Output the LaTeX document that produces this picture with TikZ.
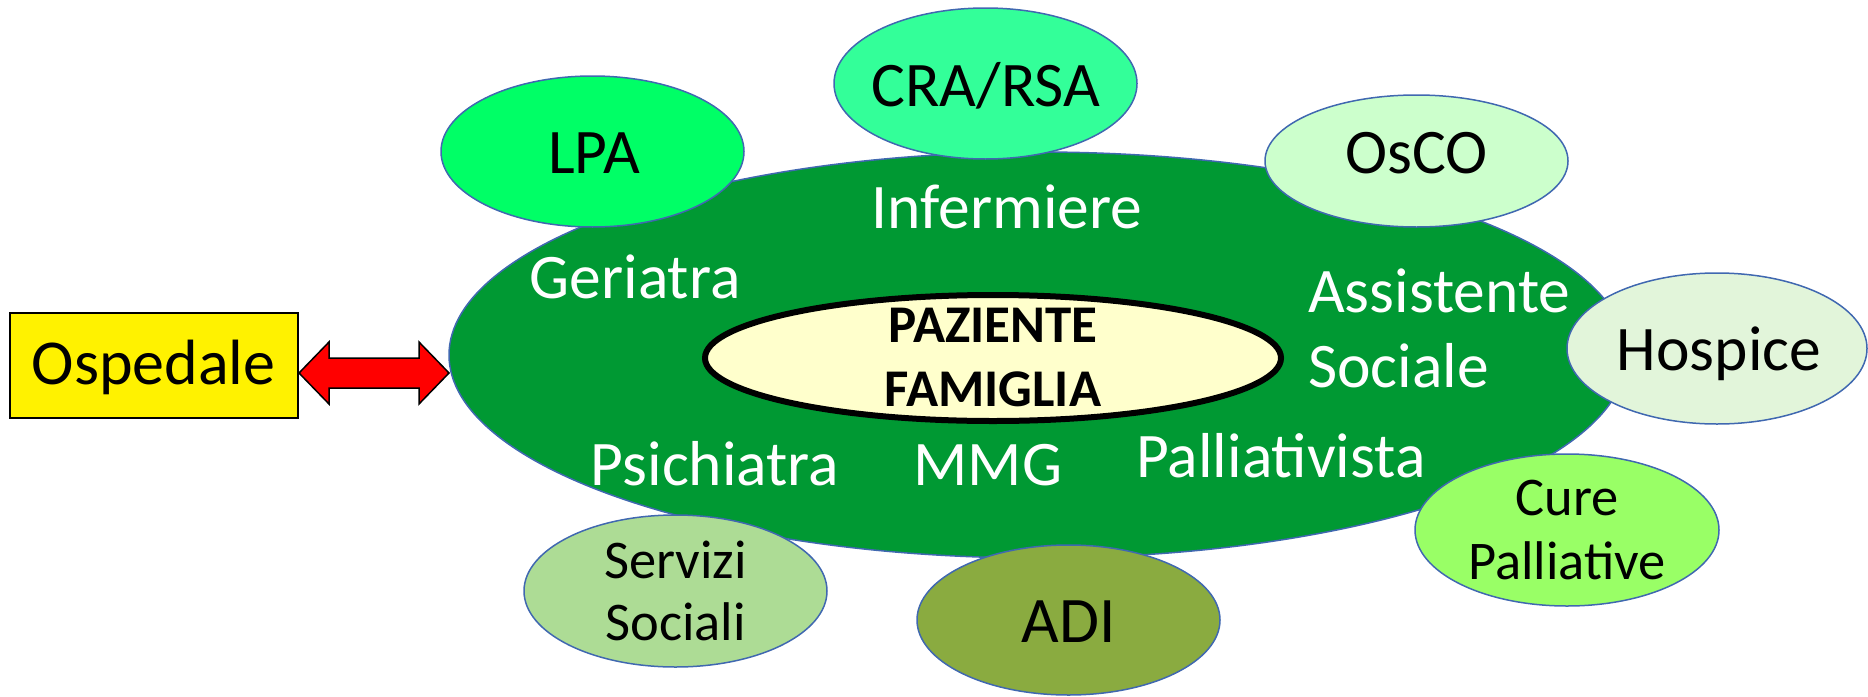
\documentclass[tikz,border=0pt]{standalone}
\usepackage{fontspec}
\setmainfont{Carlito}
\usetikzlibrary{shapes.geometric,calc}
\definecolor{biggreen}{HTML}{009933}
\definecolor{edgeblue}{HTML}{4068B0}
\definecolor{clpa}{HTML}{00FF66}
\definecolor{ccra}{HTML}{33FF99}
\definecolor{cosco}{HTML}{CCFFCC}
\definecolor{chosp}{HTML}{E2F5DA}
\definecolor{ccure}{HTML}{99FF66}
\definecolor{cserv}{HTML}{ADDC95}
\definecolor{cadi}{HTML}{8AAB40}
\definecolor{cpaz}{HTML}{FFFFCC}
\tikzset{
  bubble/.style={ellipse, draw=edgeblue, line width=1.5pt, inner sep=0pt, outer sep=0pt},
  wtext/.style={text=white, anchor=base, inner sep=0pt, font=\fontsize{63.5}{74}\selectfont},
  btext/.style={text=black, anchor=base, inner sep=0pt, font=\fontsize{63.5}{74}\selectfont},
  stext/.style={text=black, anchor=base, inner sep=0pt, font=\fontsize{54.5}{62}\selectfont},
  ptext/.style={text=black, anchor=base, inner sep=0pt, font=\fontsize{53}{62}\selectfont\bfseries},
}
\begin{document}
\begin{tikzpicture}[x=1pt,y=-1pt]
\useasboundingbox (0,0) rectangle (1868,696);
% big ellipse
\node[bubble, fill=biggreen, minimum width=1178pt, minimum height=406pt] (team) at (1038,355) {};
% centre
\node[ellipse, draw=black, line width=6pt, fill=cpaz, minimum width=576pt, minimum height=126pt, inner sep=0pt] (paz) at (993,358) {};
\node[ptext] (pazt1) at (993,342) {PAZIENTE};
\node[ptext] (pazt2) at (993,406) {FAMIGLIA};
% white labels
\node[wtext] (ger) at (635,298) {Geriatra};
\node[wtext] (inf) at (1007,228) {Infermiere};
\node[wtext, anchor=base west] (ass1) at (1308,312) {Assistente};
\node[wtext, anchor=base west] (ass2) at (1308,387) {Sociale};
\node[wtext] (psi) at (715,485) {Psichiatra};
\node[wtext] (mmg) at (988,485) {MMG};
\node[wtext] (pal) at (1281,477) {Palliativista};
% satellite ellipses
\node[bubble, fill=clpa, minimum width=303pt, minimum height=151pt] (lpa) at (592.5,151.5) {};
\node[btext] (lpat) at (594,173) {LPA};
\node[bubble, fill=ccra, minimum width=303pt, minimum height=151pt] (cra) at (985.5,83.5) {};
\node[btext] (crat) at (986,106) {CRA/RSA};
\node[bubble, fill=cosco, minimum width=303pt, minimum height=132pt] (osco) at (1416.5,161) {};
\node[btext] (oscot) at (1416.5,173) {OsCO};
\node[bubble, fill=chosp, minimum width=300pt, minimum height=151pt] (hosp) at (1717,348.5) {};
\node[btext] (hospt) at (1719,370) {Hospice};
\node[bubble, fill=ccure, minimum width=304pt, minimum height=152pt] (cure) at (1567,530) {};
\node[stext] (curet1) at (1567,515) {Cure};
\node[stext] (curet2) at (1567,579) {Palliative};
\node[bubble, fill=cserv, minimum width=303pt, minimum height=152pt] (serv) at (675.5,591) {};
\node[stext] (servt1) at (675.5,578) {Servizi};
\node[stext] (servt2) at (675.5,640) {Sociali};
\node[bubble, fill=cadi, minimum width=303pt, minimum height=150pt] (adi) at (1068.5,620) {};
\node[btext, font=\fontsize{65}{74}\selectfont] (adit) at (1068.5,642) {ADI};
% Ospedale
\node[draw=black, line width=2pt, fill=yellow, minimum width=288pt, minimum height=105pt, inner sep=0pt] (osp) at (154,365.5) {};
\node[btext, font=\fontsize{64}{74}\selectfont] (ospt) at (153.5,384) {Ospedale};
% double arrow
\coordinate (al) at (osp.east |- 0,373);
\coordinate (ar) at (team.west |- 0,373);
\filldraw[fill=red, draw=black, line width=1.5pt, line join=miter]
  (al) -- ++(30,-31) -- ++(0,16) -- ($(ar)+(-30,-15)$) -- ++(0,-16) -- (ar)
  -- ++(-30,31) -- ++(0,-16) -- ($(al)+(30,15)$) -- ++(0,16) -- cycle;
\end{tikzpicture}
\end{document}
